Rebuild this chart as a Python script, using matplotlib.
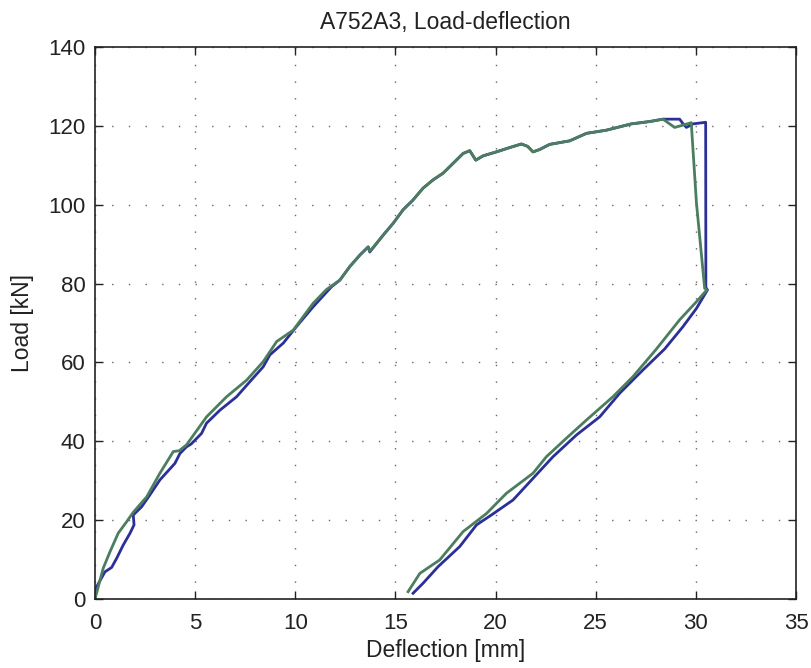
import matplotlib
matplotlib.use("Agg")
import matplotlib.pyplot as plt

# Blue curve (test 1): loading then unloading
blue_x = [0, 0.08, 0.5, 0.83, 1.08, 1.41, 1.75, 1.95, 1.91, 2.33, 2.74, 3.24, 3.99, 4.24, 4.57, 4.8,
          5.32, 5.57, 6.24, 7.07, 7.73, 8.4, 8.73, 9.4, 10.06, 10.89, 11.81, 12.23, 12.72, 13.22,
          13.64, 13.72, 14.06, 14.39, 14.89, 15.38, 15.88, 16.38, 16.88, 17.38, 17.88, 18.38,
          18.71, 18.85, 19.01, 19.38, 20.04, 20.71, 21.29, 21.6, 21.87, 22.2, 22.7, 23.7, 24.54,
          25.53, 26.78, 27.7, 28.36, 29.19, 29.35, 29.53, 29.85, 30.49, 30.5, 30.58,
          30.03, 29.36, 28.44, 27.36, 26.2, 25.2, 24.04, 22.87, 21.87, 20.87, 19.79, 19.05,
          18.21, 17.13, 16.38, 15.88]
blue_y = [0, 3.1, 6.9, 8.0, 10.3, 13.7, 16.7, 18.8, 21.3, 23.4, 26.4, 30.2, 34.4, 36.9, 38.6, 39.3,
          42.0, 44.6, 47.9, 51.3, 55.1, 58.9, 61.9, 64.9, 69.1, 74.1, 79.2, 80.9, 84.3, 87.2,
          89.3, 88.0, 90.2, 92.3, 95.3, 98.7, 101.2, 104.2, 106.3, 108.0, 110.5, 113.0,
          113.7, 112.6, 111.3, 112.4, 113.4, 114.5, 115.4, 114.8, 113.4, 114.0, 115.3, 116.2, 118.1,
          118.9, 120.5, 121.1, 121.7, 121.7, 120.6, 119.6, 120.5, 120.9, 79.0, 78.4,
          73.7, 69.1, 63.4, 58.1, 52.2, 46.2, 41.6, 36.1, 30.6, 25.1, 21.3, 18.8,
          13.3, 8.2, 4.0, 1.45]

# Green curve (test 2): loading then unloading
green_x = [0, 0.41, 0.75, 1.16, 1.58, 1.91, 2.58, 3.24, 3.91, 4.2, 4.57, 5.57, 6.57, 7.57, 8.4,
           9.07, 9.9, 10.89, 11.56, 12.23, 12.72, 13.22, 13.64, 13.72, 14.06, 14.39, 14.89, 15.38,
           15.88, 16.38, 16.88, 17.38, 17.88, 18.38, 18.71, 18.85, 19.01, 19.38, 20.04, 20.71,
           21.29, 21.6, 21.87, 22.2, 22.7, 23.7, 24.54, 25.53, 26.78, 27.7, 28.36, 28.94, 29.36,
           29.77, 30.03, 30.44, 30.55,
           30.03, 29.19, 28.03, 26.86, 25.86, 24.54, 23.54, 22.54, 21.87, 20.54, 19.55, 18.38,
           17.21, 16.22, 15.63]
green_y = [0, 7.8, 12.0, 16.7, 19.6, 22.0, 25.9, 31.9, 37.4, 37.6, 39.1, 46.2, 51.3, 55.5, 60.2,
           65.3, 68.2, 75.0, 78.5, 80.9, 84.3, 87.2, 89.3, 88.2, 90.2, 92.3, 95.3, 98.7,
           101.2, 104.2, 106.3, 108.0, 110.5, 113.0, 113.7, 112.6, 111.3, 112.4, 113.4, 114.5,
           115.4, 114.8, 113.4, 114.0, 115.3, 116.2, 118.1, 118.9, 120.5, 121.1, 121.7, 119.6, 120.2,
           120.8, 100.4, 78.8, 78.4,
           75.4, 70.8, 63.4, 56.4, 51.3, 45.4, 40.8, 36.1, 31.9, 26.8, 21.7, 17.1,
           9.9, 6.5, 1.85]

x_ticks = [0, 5, 10, 15, 20, 25, 30, 35]
y_ticks = [0, 20, 40, 60, 80, 100, 120, 140]

plt.rcParams['font.family'] = ['Liberation Sans', 'DejaVu Sans']

fig = plt.figure(figsize=(8.11, 6.68), dpi=100)
ax = fig.add_axes([95 / 811, 69 / 668, 701 / 811, 552 / 668])

ax.plot(blue_x, blue_y, color='#2b2f97', lw=2.0, solid_joinstyle='round')
ax.plot(green_x, green_y, color='#4b7d5e', lw=2.0, solid_joinstyle='round')

ax.set_xlim(0, 35)
ax.set_ylim(0, 140)
ax.set_xticks(x_ticks)
ax.set_yticks(y_ticks)
ax.tick_params(direction='in', top=True, right=True, length=6, width=1,
               labelsize=16, colors='#222222')
ax.tick_params(axis='x', pad=10)
ax.tick_params(axis='y', pad=7)
for s in ax.spines.values():
    s.set_linewidth(1.2)
    s.set_color('#222222')
ax.grid(True, color='#666666', linestyle=(0, (1, 11)), linewidth=1.0)

ax.set_xlabel('Deflection [mm]', fontsize=16.5, labelpad=4, color='#222222')
ax.set_ylabel('Load [kN]', fontsize=16.5, labelpad=10, color='#222222')
ax.set_title('A752A3, Load-deflection', fontsize=16.5, pad=13, color='#222222')

fig.savefig('out.png', dpi=100)
